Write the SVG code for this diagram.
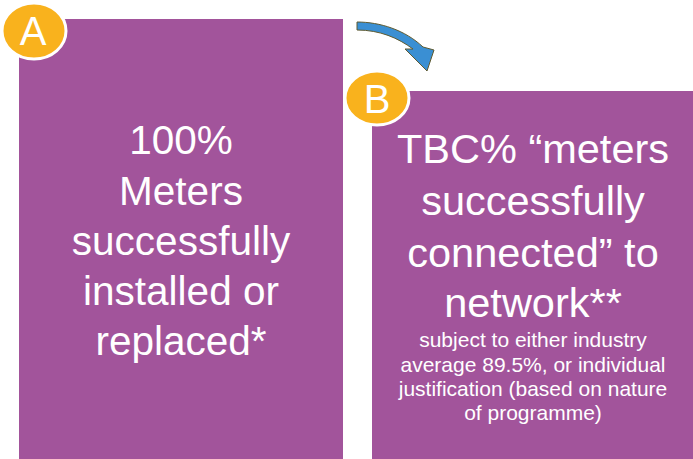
<svg xmlns="http://www.w3.org/2000/svg" width="693" height="459" viewBox="0 0 693 459">
  <style>
    .box { fill: #A2549B; }
    .badge { fill: #F9B21D; stroke: #FFFFFF; stroke-width: 3; }
    .badge-text { font-family: "Liberation Sans", Arial, sans-serif; font-size: 40px; fill: #FFFFFF; text-anchor: middle; }
    .big-a { font-family: "Liberation Sans", Arial, sans-serif; font-size: 40.5px; fill: #FFFFFF; text-anchor: middle; }
    .big-b { font-family: "Liberation Sans", Arial, sans-serif; font-size: 41.5px; fill: #FFFFFF; text-anchor: middle; }
    .small { font-family: "Liberation Sans", Arial, sans-serif; font-size: 21px; fill: #FFFFFF; text-anchor: middle; }
  </style>
  <rect width="693" height="459" fill="#FFFFFF"/>

  <!-- Box A: installed or replaced -->
  <g id="box-a">
    <rect class="box" x="19" y="19" width="324" height="440"/>
    <text class="big-a" x="181" y="154">100%</text>
    <text class="big-a" x="181" y="205">Meters</text>
    <text class="big-a" x="181" y="255">successfully</text>
    <text class="big-a" x="181" y="305">installed or</text>
    <text class="big-a" x="181" y="355">replaced*</text>
  </g>

  <!-- Box B: connected to network -->
  <g id="box-b">
    <rect class="box" x="372" y="91" width="321" height="368"/>
    <text class="big-b" x="533" y="163">TBC% “meters</text>
    <text class="big-b" x="533" y="215">successfully</text>
    <text class="big-b" x="533" y="267">connected” to</text>
    <text class="big-b" x="533" y="317">network**</text>
    <text class="small" x="533" y="347">subject to either industry</text>
    <text class="small" x="533" y="372">average 89.5%, or individual</text>
    <text class="small" x="533" y="396">justification (based on nature</text>
    <text class="small" x="533" y="420">of programme)</text>
  </g>

  <!-- Badges -->
  <g id="badge-a">
    <ellipse class="badge" cx="34" cy="31" rx="32" ry="28"/>
    <text class="badge-text" x="33" y="45">A</text>
  </g>
  <g id="badge-b">
    <ellipse class="badge" cx="377" cy="98" rx="32" ry="27"/>
    <text class="badge-text" x="377" y="113">B</text>
  </g>

  <!-- Connector: curved arrow from A to B -->
  <g id="connectors">
    <path d="M357,22 C380,22 405,30 423,47 L434,50 L427,71 L405,49 L413,49 C398,38 380,30 357,30 Z"
          fill="#3A8FD3" stroke="#5E5A30" stroke-width="1"/>
  </g>
</svg>
